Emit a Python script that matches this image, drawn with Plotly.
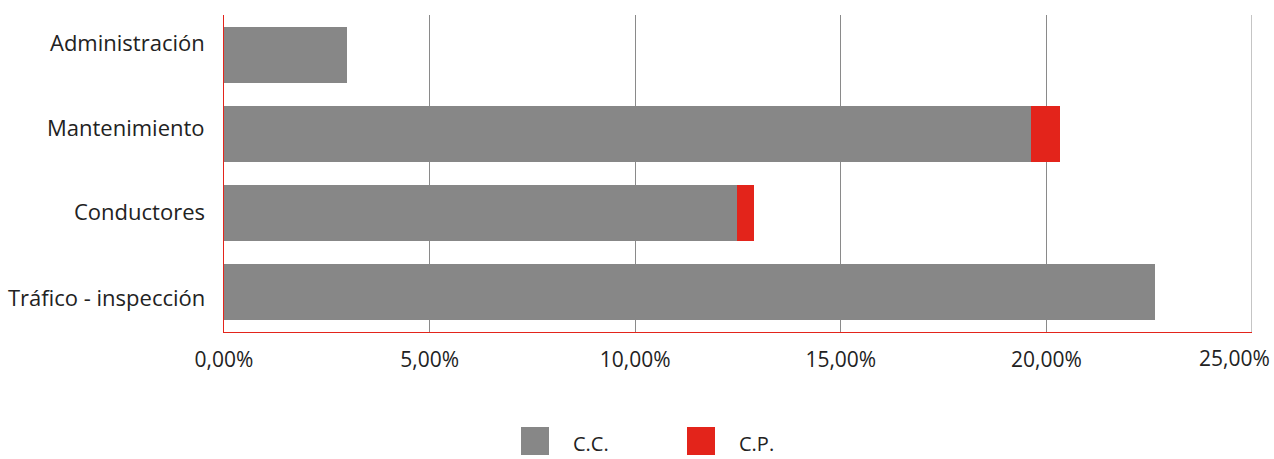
import plotly.graph_objects as go

# Categories (top to bottom) and the two stacked series, in percent
categories = ["Administración", "Mantenimiento", "Conductores", "Tráfico - inspección"]
cc_values = [2.99, 19.63, 12.48, 22.65]
cp_values = [0.0, 0.69, 0.42, 0.0]
series_names = ["C.C.", "C.P."]
tick_values = [0, 5, 10, 15, 20, 25]
tick_labels = ["0,00%", "5,00%", "10,00%", "15,00%", "20,00%", "25,00%"]

GRAY = "#878787"
RED = "#e3241b"
GRID = "#8a8a8a"
FONT = "Open Sans"
TEXT = "#222222"

# plot-area geometry in pixels (used to place paper-referenced extras)
PLOT_L, PLOT_R, PLOT_T, PLOT_B = 224, 1252, 15, 332
PW, PH = PLOT_R - PLOT_L, PLOT_B - PLOT_T


def px_x(x):
    return (x - PLOT_L) / PW


def px_y(y):
    return (PLOT_B - y) / PH


fig = go.Figure()
fig.add_trace(go.Bar(y=categories, x=cc_values, orientation="h", name=series_names[0],
                     marker=dict(color=GRAY, line=dict(width=0)), showlegend=False))
fig.add_trace(go.Bar(y=categories, x=cp_values, orientation="h", name=series_names[1],
                     marker=dict(color=RED, line=dict(width=0)), showlegend=False))

x_max = tick_values[-1]
fig.update_layout(
    barmode="stack",
    bargap=0.295,
    width=1274, height=459,
    margin=dict(l=PLOT_L, r=1274 - PLOT_R, t=PLOT_T, b=459 - PLOT_B),
    paper_bgcolor="white", plot_bgcolor="white",
    font=dict(family=FONT, size=21, color=TEXT),
    xaxis=dict(range=[0, x_max], tickvals=tick_values[:-1], ticktext=tick_labels[:-1],
               showgrid=True, gridcolor=GRID, gridwidth=1,
               showline=True, linecolor=RED, linewidth=1,
               zeroline=False, ticks="", ticklabelstandoff=9,
               tickfont=dict(family=FONT, size=21, color=TEXT)),
    yaxis=dict(categoryorder="array", categoryarray=categories, autorange="reversed",
               showline=True, linecolor=RED, linewidth=1,
               showgrid=False, ticks="", showticklabels=False),
)

# Last gridline and its label, pulled left so the label stays inside the page
fig.add_shape(type="line", xref="x", yref="paper", x0=x_max, x1=x_max, y0=0, y1=1,
              line=dict(color=GRID, width=1), layer="below")
fig.add_annotation(text=tick_labels[-1], xref="x", yref="paper", x=x_max, y=px_y(358),
                   xanchor="center", yanchor="middle", xshift=-18, showarrow=False,
                   font=dict(family=FONT, size=21, color=TEXT))

# Category labels, spaced evenly down the left side
label_top, label_step = 41.5, 85.0
for i, name in enumerate(categories):
    fig.add_annotation(text=name, xref="paper", yref="paper",
                       x=px_x(207), y=px_y(label_top + label_step * i),
                       xanchor="right", yanchor="middle", showarrow=False,
                       font=dict(family=FONT, size=22, color=TEXT))

# Legend drawn as large swatches along the bottom
legend_items = [(series_names[0], GRAY, 521), (series_names[1], RED, 687)]
for name, color, x0 in legend_items:
    fig.add_shape(type="rect", xref="paper", yref="paper",
                  x0=px_x(x0), x1=px_x(x0 + 28),
                  y0=px_y(455), y1=px_y(427),
                  fillcolor=color, line=dict(width=0), layer="above")
    fig.add_annotation(text=name, xref="paper", yref="paper",
                       x=px_x(x0 + 50), y=px_y(459),
                       xanchor="left", yanchor="bottom", showarrow=False,
                       font=dict(family=FONT, size=20, color=TEXT))

fig.write_html("out.html")
